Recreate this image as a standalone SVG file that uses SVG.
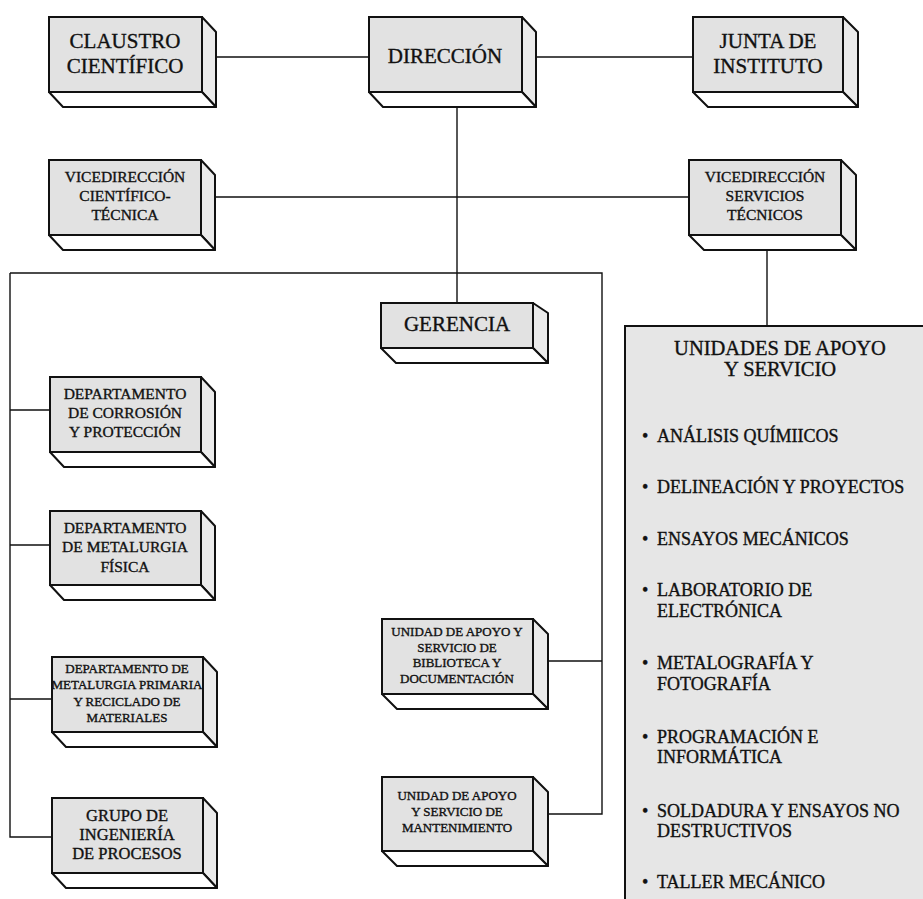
<svg xmlns="http://www.w3.org/2000/svg" width="923" height="899" viewBox="0 0 923 899">
<style>
.f{fill:#e2e2e2;stroke:#111;stroke-width:2}
.r{fill:#ebebeb;stroke:#111;stroke-width:2;stroke-linejoin:round}
.b{fill:#ffffff;stroke:#111;stroke-width:2;stroke-linejoin:round}
.c{fill:none;stroke:#111;stroke-width:1.4}
text{font-family:"Liberation Serif","Times New Roman",serif;fill:#111;stroke:#111;stroke-width:0.35;text-anchor:middle}
.t21{font-size:21px}
.t16{font-size:15.5px}
.t13{font-size:13px}
.big{fill:#e6e6e6;stroke:#111;stroke-width:2}
.li{font-size:18px;text-anchor:start}
</style>
<g id="connectors">
<path class="c" d="M215 57H369M536 57H693M457 107V303M215 197H689M10 273H602V814H548M10 273V837H52M10 410H50M10 545H50M10 699H52M548 661H602M767 250V326"/>
</g>
<g id="claustro">
<polygon class="r" points="202,17 216,32 216,107 202,92"/>
<polygon class="b" points="49,92 202,92 216,107 63,107"/>
<rect class="f" x="49" y="17" width="153" height="75"/>
<text class="t21" x="125" y="48">CLAUSTRO</text>
<text class="t21" x="125" y="73">CIENTÍFICO</text>
</g>
<g id="direccion">
<polygon class="r" points="522,17 536,32 536,107 522,92"/>
<polygon class="b" points="369,92 522,92 536,107 383,107"/>
<rect class="f" x="369" y="17" width="153" height="75"/>
<text class="t21" x="445" y="63">DIRECCIÓN</text>
</g>
<g id="junta">
<polygon class="r" points="843,17 858,32 858,107 843,92"/>
<polygon class="b" points="693,92 843,92 858,107 708,107"/>
<rect class="f" x="693" y="17" width="150" height="75"/>
<text class="t21" x="768" y="48">JUNTA DE</text>
<text class="t21" x="768" y="73">INSTITUTO</text>
</g>
<g id="vice-ct">
<polygon class="r" points="201,160 215,175 215,250 201,235"/>
<polygon class="b" points="49,235 201,235 215,250 63,250"/>
<rect class="f" x="49" y="160" width="152" height="75"/>
<text class="t16" x="125" y="182">VICEDIRECCIÓN</text>
<text class="t16" x="125" y="201">CIENTÍFICO-</text>
<text class="t16" x="125" y="220">TÉCNICA</text>
</g>
<g id="vice-st">
<polygon class="r" points="841,160 856,175 856,250 841,235"/>
<polygon class="b" points="689,235 841,235 856,250 704,250"/>
<rect class="f" x="689" y="160" width="152" height="75"/>
<text class="t16" x="765" y="182">VICEDIRECCIÓN</text>
<text class="t16" x="765" y="201">SERVICIOS</text>
<text class="t16" x="765" y="220">TÉCNICOS</text>
</g>
<g id="gerencia">
<polygon class="r" points="533,303 548,313 548,363 533,348"/>
<polygon class="b" points="381,348 533,348 548,363 396,363"/>
<rect class="f" x="381" y="303" width="152" height="45"/>
<text class="t21" x="457" y="331">GERENCIA</text>
</g>
<g id="dep-corrosion">
<polygon class="r" points="201,377 215,392 215,467 201,452"/>
<polygon class="b" points="50,452 201,452 215,467 64,467"/>
<rect class="f" x="50" y="377" width="151" height="75"/>
<text class="t16" x="125" y="399">DEPARTAMENTO</text>
<text class="t16" x="125" y="418">DE CORROSIÓN</text>
<text class="t16" x="125" y="437">Y PROTECCIÓN</text>
</g>
<g id="dep-metfisica">
<polygon class="r" points="201,511 215,526 215,600 201,585"/>
<polygon class="b" points="50,585 201,585 215,600 64,600"/>
<rect class="f" x="50" y="511" width="151" height="74"/>
<text class="t16" x="125" y="533">DEPARTAMENTO</text>
<text class="t16" x="125" y="552">DE METALURGIA</text>
<text class="t16" x="125" y="572">FÍSICA</text>
</g>
<g id="dep-metprimaria">
<polygon class="r" points="203,657 217,672 217,747 203,732"/>
<polygon class="b" points="52,732 203,732 217,747 66,747"/>
<rect class="f" x="52" y="657" width="151" height="75"/>
<text class="t13" x="127" y="673">DEPARTAMENTO DE</text>
<text class="t13" x="127" y="689">METALURGIA PRIMARIA</text>
<text class="t13" x="127" y="706">Y RECICLADO DE</text>
<text class="t13" x="127" y="722">MATERIALES</text>
</g>
<g id="grupo">
<polygon class="r" points="203,798 217,813 217,888 203,873"/>
<polygon class="b" points="52,873 203,873 217,888 66,888"/>
<rect class="f" x="52" y="798" width="151" height="75"/>
<text class="t16" x="127" y="821" style="font-size:16.5px">GRUPO DE</text>
<text class="t16" x="127" y="840" style="font-size:16.5px">INGENIERÍA</text>
<text class="t16" x="127" y="859" style="font-size:16.5px">DE PROCESOS</text>
</g>
<g id="unidad-biblioteca">
<polygon class="r" points="533,619 548,634 548,709 533,694"/>
<polygon class="b" points="382,694 533,694 548,709 397,709"/>
<rect class="f" x="382" y="619" width="151" height="75"/>
<text class="t13" x="457" y="636">UNIDAD DE APOYO Y</text>
<text class="t13" x="457" y="652">SERVICIO DE</text>
<text class="t13" x="457" y="667">BIBLIOTECA Y</text>
<text class="t13" x="457" y="683">DOCUMENTACIÓN</text>
</g>
<g id="unidad-mantenimiento">
<polygon class="r" points="533,777 548,792 548,866 533,851"/>
<polygon class="b" points="382,851 533,851 548,866 397,866"/>
<rect class="f" x="382" y="777" width="151" height="74"/>
<text class="t13" x="457" y="800">UNIDAD DE APOYO</text>
<text class="t13" x="457" y="816">Y SERVICIO DE</text>
<text class="t13" x="457" y="832">MANTENIMIENTO</text>
</g>
<g id="unidades-apoyo">
<rect class="big" x="625" y="326" width="310" height="590"/>
<text x="780" y="355" style="font-size:20.5px">UNIDADES DE APOYO</text>
<text x="780" y="376" style="font-size:20.5px">Y SERVICIO</text>
<text class="li" x="642" y="442">•</text>
<text class="li" x="657" y="442">ANÁLISIS QUÍMIICOS</text>
<text class="li" x="642" y="493">•</text>
<text class="li" x="657" y="493">DELINEACIÓN Y PROYECTOS</text>
<text class="li" x="642" y="545">•</text>
<text class="li" x="657" y="545">ENSAYOS MECÁNICOS</text>
<text class="li" x="642" y="596">•</text>
<text class="li" x="657" y="596">LABORATORIO DE</text>
<text class="li" x="657" y="617">ELECTRÓNICA</text>
<text class="li" x="642" y="669">•</text>
<text class="li" x="657" y="669">METALOGRAFÍA Y</text>
<text class="li" x="657" y="690">FOTOGRAFÍA</text>
<text class="li" x="642" y="743">•</text>
<text class="li" x="657" y="743">PROGRAMACIÓN E</text>
<text class="li" x="657" y="763">INFORMÁTICA</text>
<text class="li" x="642" y="817">•</text>
<text class="li" x="657" y="817">SOLDADURA Y ENSAYOS NO</text>
<text class="li" x="657" y="837">DESTRUCTIVOS</text>
<text class="li" x="642" y="888">•</text>
<text class="li" x="657" y="888">TALLER MECÁNICO</text>
</g>
</svg>
